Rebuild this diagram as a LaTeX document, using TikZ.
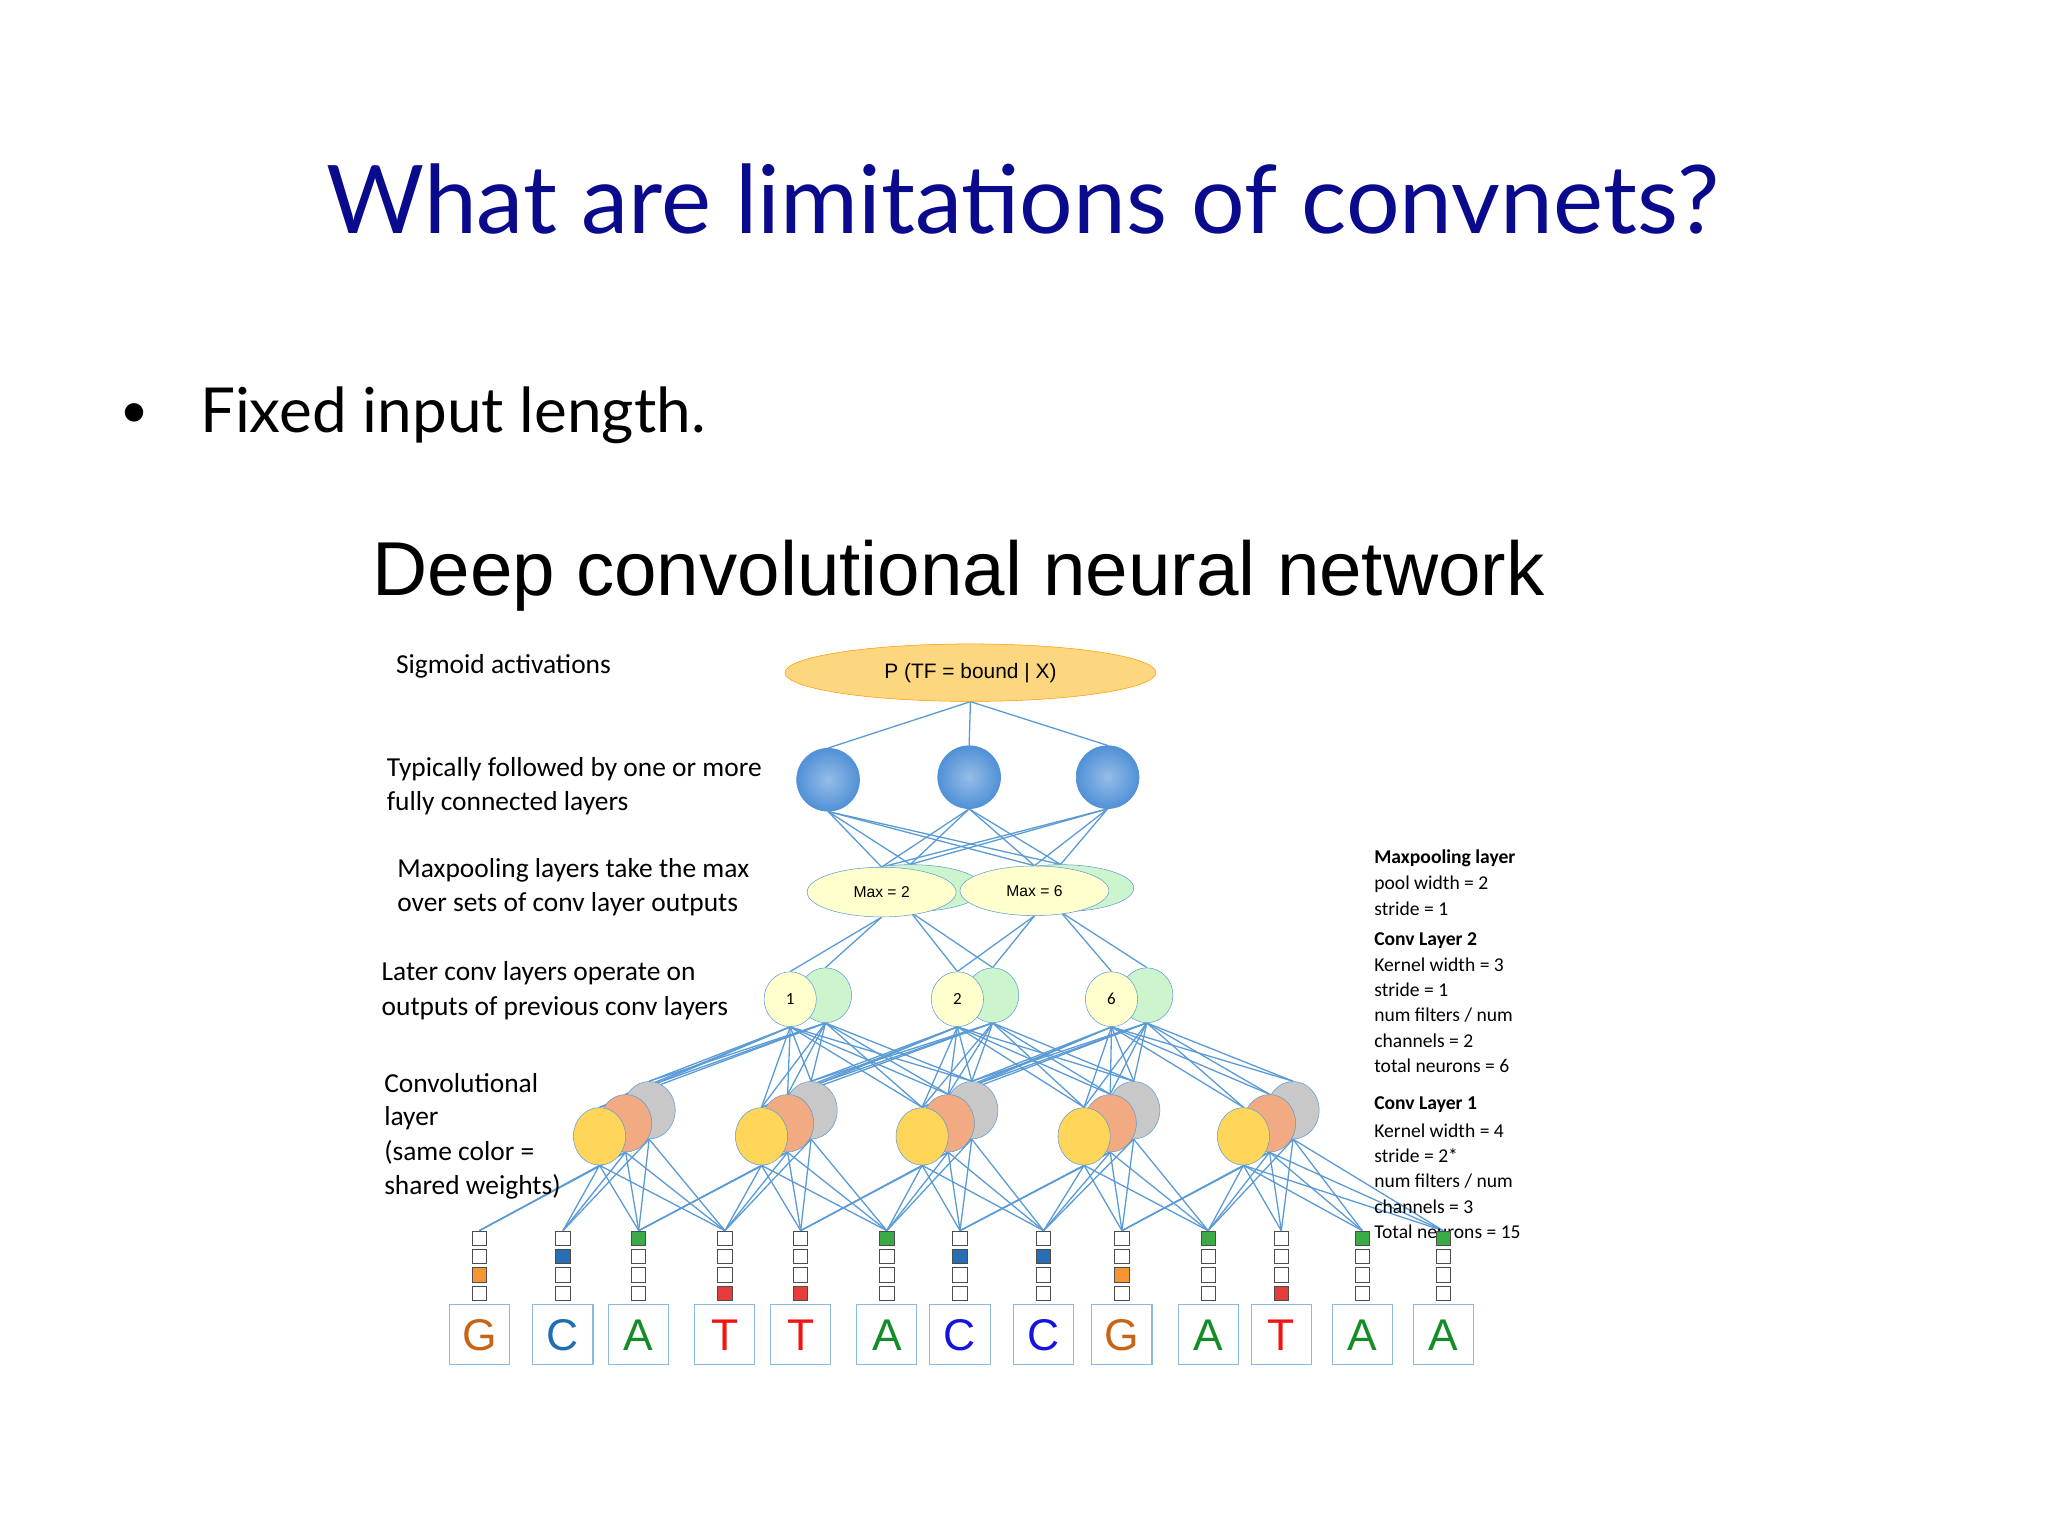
\documentclass[tikz,border=0pt]{standalone}
\usepackage{fontspec}
\setmainfont{Carlito}
\newfontfamily\titlefont{Lato}
\newfontfamily\arialf{Liberation Sans}
\usetikzlibrary{shapes.geometric,backgrounds}
\definecolor{navy}{RGB}{10,10,140}
\definecolor{edge}{RGB}{91,155,213}
\definecolor{fcblue}{RGB}{80,145,215}
\definecolor{cyel}{RGB}{255,214,90}
\definecolor{cora}{RGB}{242,170,130}
\definecolor{cgry}{RGB}{200,200,200}
\definecolor{lyel}{RGB}{255,255,205}
\definecolor{lgrn}{RGB}{205,245,205}
\definecolor{pbox}{RGB}{253,215,127}
\definecolor{sqA}{RGB}{60,170,70}
\definecolor{sqC}{RGB}{40,110,180}
\definecolor{sqG}{RGB}{245,150,50}
\definecolor{sqT}{RGB}{230,60,60}
\definecolor{lG}{RGB}{200,100,20}
\definecolor{lC}{RGB}{20,20,220}
\definecolor{lCt}{RGB}{30,110,180}
\definecolor{lA}{RGB}{20,140,40}
\definecolor{lT}{RGB}{240,20,20}
\tikzset{
  ed/.style={draw=edge,line width=1pt},
  lbl/.style={anchor=west,inner sep=0,font=\fontsize{21}{23}\selectfont},
  rl/.style={anchor=west,inner sep=0,font=\fontsize{15}{16}\selectfont},
  cir/.style={circle,draw=edge!80!black,line width=0.6pt,minimum size=#1,inner sep=0},
  sq/.style={draw=gray!60!black,line width=0.6pt,minimum size=11pt,inner sep=0},
  lbox/.style={draw=edge!70,line width=0.8pt,minimum width=46pt,minimum height=46pt,inner sep=0,font=\arialf\fontsize{34}{34}\selectfont},
}
\begin{document}
\begin{tikzpicture}[x=1pt,y=-1pt]
\useasboundingbox (0,0) rectangle (1568,1176);
\node[inner sep=0,text=navy,font=\titlefont\fontsize{72.5}{72}\selectfont] (title) at (783,152) {What are limitations of convnets?};
\node[inner sep=0,font=\fontsize{40}{40}\selectfont] (bul) at (103,318) {•};
\node[inner sep=0,anchor=west,font=\titlefont\fontsize{47.5}{47}\selectfont] (fil) at (153,318) {Fixed input length.};
\node[inner sep=0,anchor=west,font=\arialf\fontsize{58.5}{58}\selectfont] (deep) at (285,441) {Deep convolutional neural network};
% left labels
\node[lbl] (t1) at (303,510) {Sigmoid activations};
\node[lbl] (t2) at (296,589) {Typically followed by one or more};
\node[lbl] (t3) at (296,615) {fully connected layers};
\node[lbl] (t4) at (304,666) {Maxpooling layers take the max};
\node[lbl] (t5) at (304,692) {over sets of conv layer outputs};
\node[lbl] (t6) at (292,745) {Later conv layers operate on};
\node[lbl] (t7) at (292,772) {outputs of previous conv layers};
\node[lbl] (t8) at (294,829) {Convolutional};
\node[lbl] (t9) at (294,856) {layer};
\node[lbl] (t10) at (294,882) {(same color =};
\node[lbl] (t11) at (294,909) {shared weights)};
% right labels
\node[rl,font=\bfseries\fontsize{15}{16}\selectfont] (r1) at (1052,657) {Maxpooling layer};
\node[rl] (r2) at (1052,677) {pool width = 2};
\node[rl] (r3) at (1052,696) {stride = 1};
\node[rl,font=\bfseries\fontsize{15}{16}\selectfont] (r4) at (1052,720) {Conv Layer 2};
\node[rl] (r5) at (1052,739) {Kernel width = 3};
\node[rl] (r6) at (1052,758) {stride = 1};
\node[rl] (r7) at (1052,777) {num filters / num};
\node[rl] (r8) at (1052,797) {channels = 2};
\node[rl] (r9) at (1052,816) {total neurons = 6};
\node[rl,font=\bfseries\fontsize{15}{16}\selectfont] (r10) at (1052,846) {Conv Layer 1};
\node[rl] (r11) at (1052,866) {Kernel width = 4};
\node[rl] (r12) at (1052,885) {stride = 2*};
\node[rl] (r13) at (1052,904) {num filters / num};
\node[rl] (r14) at (1052,924) {channels = 3};
\node[rl] (r15) at (1052,943) {Total neurons = 15};
% output
\node[ellipse,draw=orange!80!yellow,fill=pbox,minimum width=284pt,minimum height=44pt,inner sep=0,font=\arialf\fontsize{16}{16}\selectfont] (P) at (743,515) {P (TF = bound | X)};
% FC
\foreach \i/\x/\y in {1/634/597,2/742/595,3/848/595}
  \node[cir=48pt,shade,inner color=fcblue!60,outer color=fcblue,draw=fcblue] (F\i) at (\x,\y) {};
% maxpool
\node[ellipse,draw=edge,fill=lgrn,minimum width=112pt,minimum height=36pt] (M1b) at (697,680) {};
\node[ellipse,draw=edge,fill=lyel,minimum width=114pt,minimum height=38pt,font=\arialf\fontsize{12}{12}\selectfont] (M1) at (675,683) {Max = 2};
\node[ellipse,draw=edge,fill=lgrn,minimum width=112pt,minimum height=36pt] (M2b) at (812,680) {};
\node[ellipse,draw=edge,fill=lyel,minimum width=114pt,minimum height=38pt,font=\arialf\fontsize{12}{12}\selectfont] (M2) at (792,682) {Max = 6};
% conv2
\foreach \i/\x/\t in {1/605/1,2/733/2,3/851/6}{
  \node[ellipse,draw=edge,fill=lgrn,minimum width=40pt,minimum height=42pt,inner sep=0] (Cb\i) at (\x+27,762) {};
  \node[ellipse,draw=edge,fill=lyel,minimum width=40pt,minimum height=42pt,inner sep=0,font=\fontsize{13}{13}\selectfont] (Ca\i) at (\x,765) {\t};
}
% conv1
\foreach \i/\x in {1/459,2/583,3/706,4/830,5/952}{
  \node[ellipse,draw=edge,fill=cgry,minimum width=40pt,minimum height=44pt] (Gc\i) at (\x+38,850) {};
  \node[ellipse,draw=edge,fill=cora,minimum width=40pt,minimum height=44pt] (Gb\i) at (\x+20,860) {};
  \node[ellipse,draw=edge,fill=cyel,minimum width=40pt,minimum height=44pt] (Ga\i) at (\x,870) {};
}
% inputs
\foreach \k/\x/\L/\r/\lc in {1/367/G/3/lG,2/431/C/2/lCt,3/489/A/1/lA,4/555/T/4/lT,5/613/T/4/lT,6/679/A/1/lA,7/735/C/2/lC,8/799/C/2/lC,9/859/G/3/lG,10/925/A/1/lA,11/981/T/4/lT,12/1043/A/1/lA,13/1105/A/1/lA}{
  \foreach \rr in {1,2,3,4}{
    \ifnum\rr=\r
      \node[sq,fill=sq\L] (S\k-\rr) at (\x,934+14*\rr) {};
    \else
      \node[sq,fill=white] (S\k-\rr) at (\x,934+14*\rr) {};
    \fi
  }
  \node[lbox,text=\lc] (L\k) at (\x,1022) {\L};
}
\begin{pgfonlayer}{background}
\foreach \f in {1,2,3} \draw[ed] (P.south) -- (F\f.north);
\foreach \f in {1,2,3} \foreach \m in {M1,M1b,M2,M2b} \draw[ed] (F\f.south) -- (\m.north);
\foreach \c in {a,b} {
  \draw[ed] (M1.south) -- (C\c1.north); \draw[ed] (M1b.south) -- (C\c2.north);
  \draw[ed] (M2.south) -- (C\c2.north); \draw[ed] (M2b.south) -- (C\c3.north);
}
\foreach \j in {1,2,3} \foreach \d in {0,1,2} \foreach \c in {a,b} \foreach \g in {a,b,c} {
  \pgfmathtruncatemacro\gg{\j+\d}
  \draw[ed] (C\c\j.south) -- (G\g\gg.north);
}
\foreach \i in {1,...,5} \foreach \d in {0,1,2,3} \foreach \g in {a,b,c} {
  \pgfmathtruncatemacro\kk{2*\i-2+\d+1}
  \ifnum\kk<14 \draw[ed] (G\g\i.south) -- (S\kk-1.north); \fi
}
\foreach \g in {a,b,c} \draw[ed] (G\g5.south) -- (S13-1.north);
\end{pgfonlayer}
\end{tikzpicture}
\end{document}
